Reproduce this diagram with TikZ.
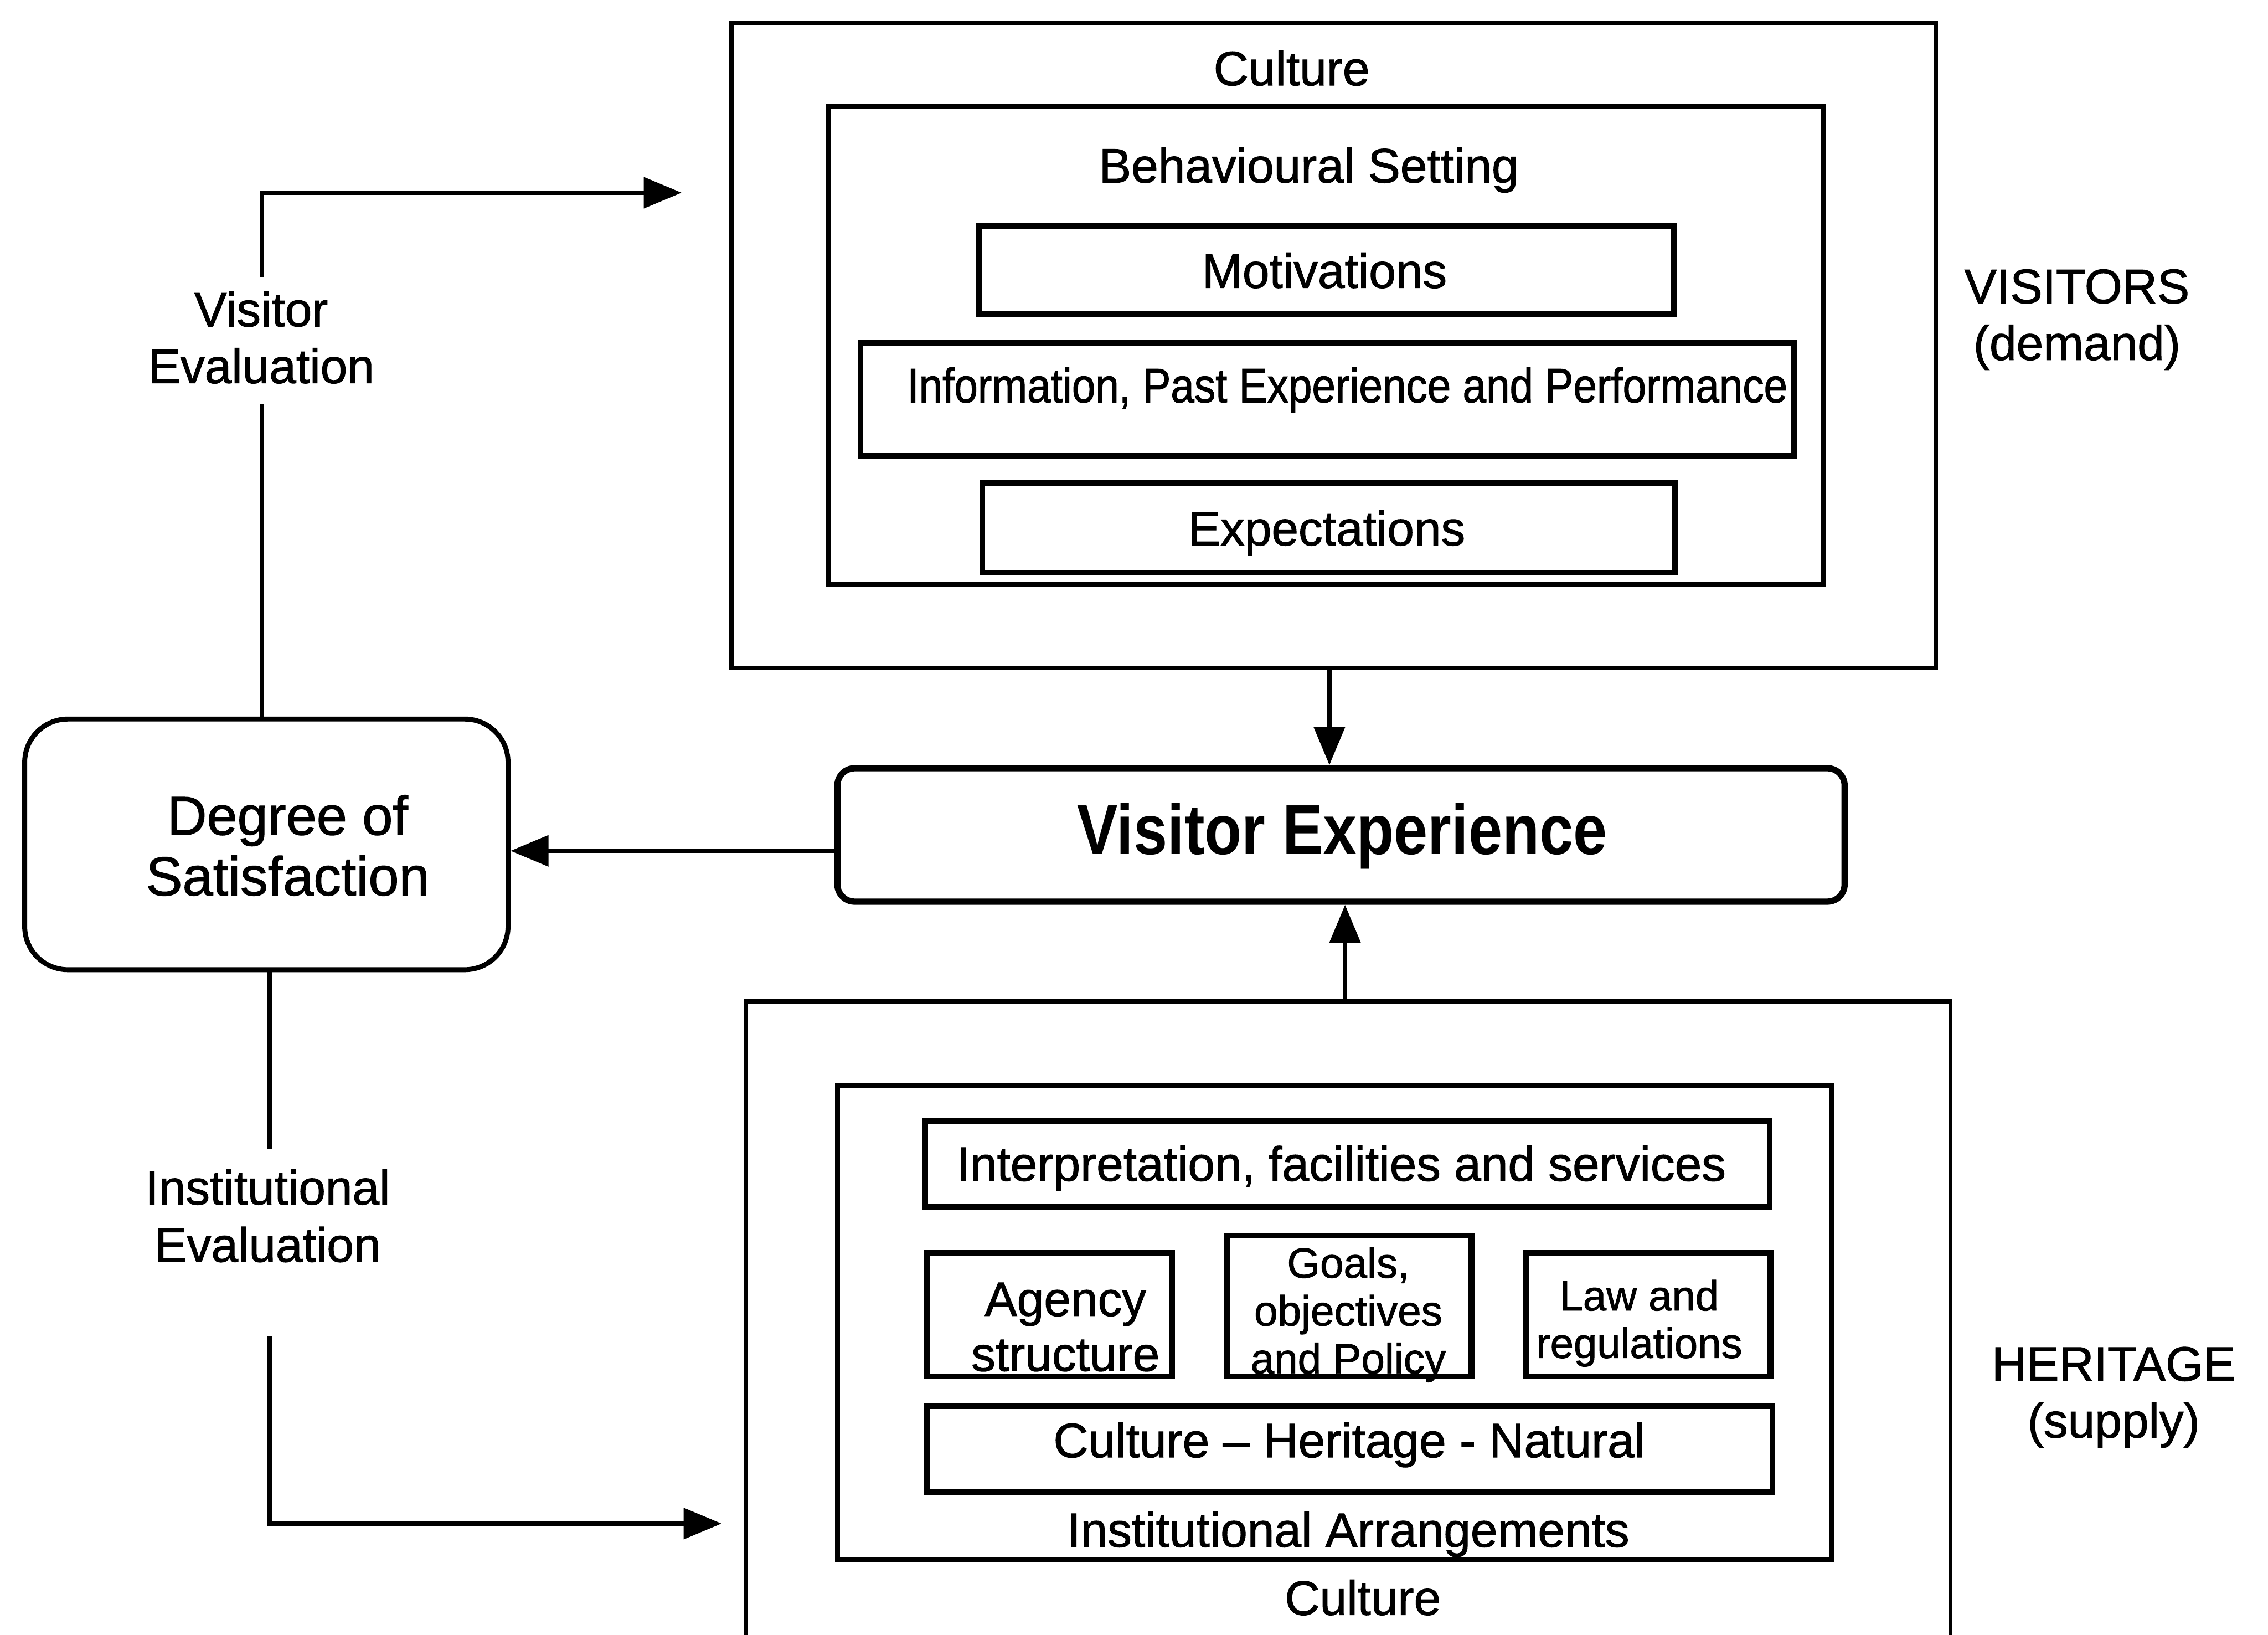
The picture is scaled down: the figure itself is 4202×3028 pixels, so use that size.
\documentclass[tikz,border=0pt]{standalone}
\usepackage{fontspec}
\setmainfont[FakeBold=1.2]{Liberation Sans}
\newfontfamily\narrowfont[FakeStretch=0.875,FakeBold=1.2]{Liberation Sans}
\newfontfamily\condfont[FakeStretch=0.86]{Liberation Sans}
\usetikzlibrary{arrows.meta}
\newcommand\txtsize[2]{\fontsize{#1}{#2}\selectfont}

\begin{document}
\begin{tikzpicture}[x=0.01cm,y=-0.01cm,
  outerbox/.style={draw,rectangle,line width=2.3pt,inner sep=0pt},
  innerbox/.style={draw,rectangle,line width=2.6pt,inner sep=0pt},
  itembox/.style={draw,rectangle,line width=3pt,inner sep=0pt},
  lbl/.style={inner sep=0pt,align=center,font=\txtsize{25.5}{29.9}},
  smalllbl/.style={inner sep=0pt,align=center,font=\txtsize{22.3}{25.2}},
  link/.style={line width=2.4pt},
  arr/.style={line width=2.4pt,-{Triangle[length=20pt,width=16pt]}},
]
\useasboundingbox (0,0) rectangle (4202,3028);

% ---------- visitors (demand) ----------
\node[outerbox,minimum width=22.30cm,minimum height=11.93cm] (topOuter) at (2471,640) {};
\node[innerbox,minimum width=18.41cm,minimum height=8.85cm] (topInner) at (2456.5,640.5) {};
\node[itembox,minimum width=12.87cm,minimum height=1.64cm] (motiv) at (2457.5,500) {};
\node[itembox,minimum width=17.28cm,minimum height=2.09cm] (info) at (2459,739.5) {};
\node[itembox,minimum width=12.83cm,minimum height=1.66cm] (expect) at (2461.5,978) {};

\node[lbl] (cultTop) at (2393,126) {Culture};
\node[lbl] (behav) at (2425,315) {Behavioural Setting};
\node[lbl] (motivTxt) at (2454,501) {Motivations};
\node[lbl,anchor=west,font=\narrowfont\txtsize{25.5}{29.9}] (infoTxt) at (1680,722) {Information, Past Experience and Performance};
\node[lbl] (expectTxt) at (2458,987) {Expectations};

\node[lbl] (visitors) at (3848,592) {VISITORS\\(demand)};

% ---------- visitor experience ----------
\node[draw,rectangle,rounded corners=0.32cm,line width=3.3pt,inner sep=0pt,
      minimum width=18.65cm,minimum height=2.47cm] (VE) at (2484.5,1546.5) {};
\node[inner sep=0pt,font=\condfont\bfseries\txtsize{37.3}{42}] (VEtxt) at (2487,1549) {Visitor Experience};

% ---------- degree of satisfaction ----------
\node[draw,rectangle,rounded corners=0.8cm,line width=2.6pt,inner sep=0pt,
      minimum width=8.95cm,minimum height=4.64cm] (DoS) at (493.5,1564) {};
\node[inner sep=0pt,align=center,font=\txtsize{28.9}{31.9}] (DoStxt) at (533,1566) {Degree of\\Satisfaction};

% ---------- heritage (supply) ----------
\node[outerbox,minimum width=22.30cm,minimum height=12.45cm] (herOuter) at (2498,2477.5) {};
\node[innerbox,minimum width=18.41cm,minimum height=8.79cm] (herInner) at (2472.5,2449.5) {};
\node[itembox,minimum width=15.63cm,minimum height=1.58cm] (interp) at (2496.5,2156) {};
\node[itembox,minimum width=4.53cm,minimum height=2.28cm] (agency) at (1944.5,2435) {};
\node[itembox,minimum width=4.53cm,minimum height=2.60cm] (goals) at (2499.5,2419) {};
\node[itembox,minimum width=4.53cm,minimum height=2.28cm] (law) at (3053.5,2435) {};
\node[itembox,minimum width=15.65cm,minimum height=1.58cm] (chn) at (2500.5,2684) {};

\node[lbl] (interpTxt) at (2485,2164) {Interpretation, facilities and services};
\node[lbl,font=\txtsize{25.5}{29}] (agencyTxt) at (1974,2458) {Agency\\structure};
\node[smalllbl] (goalsTxt) at (2498,2435) {Goals,\\objectives\\and Policy};
\node[smalllbl,font=\txtsize{22.2}{25}] (lawTxt) at (3037,2451) {Law and\\regulations};
\node[lbl] (chnTxt) at (2500,2676) {Culture -- Heritage - Natural};
\node[lbl] (instArr) at (2498,2842) {Institutional Arrangements};
\node[lbl] (cultBot) at (2525,2959) {Culture};

\node[lbl] (heritage) at (3916,2588) {HERITAGE\\(supply)};

% ---------- feedback labels ----------
\node[lbl] (veval) at (484,625) {Visitor\\Evaluation};
\node[lbl,font=\txtsize{25.5}{30.2}] (ieval) at (496,2252) {Institutional\\Evaluation};

% ---------- connectors ----------
\coordinate (vxA) at (2463,0);
\coordinate (vxB) at (2492,0);
\coordinate (hy) at (0,1576);
\draw[arr] (topOuter.south -| vxA) -- (VE.north -| vxA);
\draw[arr] (herOuter.north -| vxB) -- (VE.south -| vxB);
\draw[arr] (VE.west |- hy) -- (DoS.east |- hy);

% visitor evaluation loop
\coordinate (veA) at (485,513);
\coordinate (veB) at (485,749);
\coordinate (tipV) at (1263,357);
\draw[link] (DoS.north -| veB) -- (veB);
\draw[arr] (veA) |- (tipV);

% institutional evaluation loop
\coordinate (ieA) at (500,2129);
\coordinate (ieB) at (500,2475);
\coordinate (tipI) at (1337,2822);
\draw[link] (DoS.south -| ieA) -- (ieA);
\draw[arr] (ieB) |- (tipI);
\end{tikzpicture}
\end{document}
